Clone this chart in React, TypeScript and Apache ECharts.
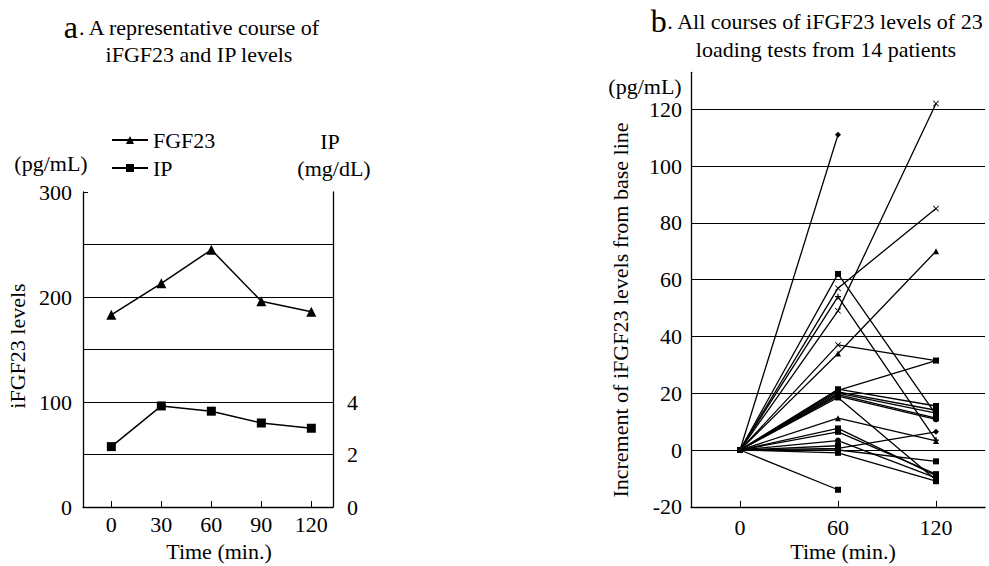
import React, { useEffect, useRef } from "react";
import * as echarts from "echarts";

// ---- Panel a: representative course ----
const timesA = [0, 30, 60, 90, 120];
const fgf23Levels = [183, 213, 245, 196, 186];
const ipLevels = [2.3, 3.85, 3.65, 3.2, 3.0];
const leftTicksA = [0, 100, 200, 300];
const rightTicksA = [0, 2, 4];

// ---- Panel b: increments from base line (23 loading tests) ----
const timesB = [0, 60, 120];
const baseline = [0, 0, 0, 0, 0, 0, 0, 0, 0, 0, 0, 0, 0, 0, 0, 0, 0, 0, 0, 0, 0, 0, 0];
const incAt60 = [111, 49, 57, 34, 37, 21, 62, 54, 21.4, 20.5, 20, 19.5, 19, 18.5, 11.2, 7.6, 6.4, 3.3, 0.6, 0, -1, -14, 1.5];
const incAt120 = [null, 122, 85, 70, 31.5, 31.5, 12.5, 3.5, 15.5, 14, 13, 11.2, 10.8, -10.6, 3.2, -9, -8.5, -9.8, 6.4, -4, -11, null, null];

const FONT = "Liberation Serif";
const symX = "path://M1,0L5,4L9,0L10,1L6,5L10,9L9,10L5,6L1,10L0,9L4,5L0,1Z";
const symPlus = "path://M4,0H6V4H10V6H6V10H4V6H0V4H4Z";
const markerB = [
  "diamond", symX, symX, "triangle", symX, "rect", "rect", symPlus, "rect", "rect", "diamond", "rect",
  "circle", "rect", "triangle", "rect", "rect", "circle", "diamond", "rect", "rect", "rect", "rect",
];

export default function App() {
  const ref = useRef<HTMLDivElement>(null);
  useEffect(() => {
    if (!ref.current) return;
    const chart = echarts.init(ref.current, null, { renderer: "svg" });
    const black = "#000";
    const txt = (text: string, x: number, y: number, extra: any = {}) => ({
      type: "text",
      x,
      y,
      ...extra,
      style: {
        text,
        fill: black,
        fontFamily: FONT,
        fontSize: 22,
        align: "center",
        verticalAlign: "middle",
      },
    });

    const seriesB = incAt60.map((v60, i) => {
      const pts: any[] = [[timesB[0], baseline[i]], [timesB[1], v60]];
      if (incAt120[i] !== null) pts.push([timesB[2], incAt120[i]]);
      return {
        name: "test" + (i + 1),
        type: "line",
        xAxisIndex: 1,
        yAxisIndex: 2,
        data: pts,
        symbol: markerB[i],
        symbolSize: 6,
        showSymbol: true,
        itemStyle: { color: black },
        lineStyle: { color: black, width: 1.3 },
        z: 3,
      };
    });

    const axisLine = { show: true, onZero: false, lineStyle: { color: black, width: 1.3 } };
    const richTitle = {
      b: { fontSize: 32, fontFamily: FONT, color: black },
      n: { fontSize: 22, fontFamily: FONT, color: black },
    };

    const option: any = {
      animation: false,
      textStyle: { fontFamily: FONT, color: black },
      grid: [
        { left: 83, top: 192, width: 250, height: 315 },
        { left: 691, top: 72.3, width: 294, height: 434.5 },
      ],
      legend: {
        data: ["FGF23", "IP"],
        orient: "vertical",
        left: 106,
        top: 124,
        itemWidth: 36,
        itemHeight: 10,
        itemGap: 6,
        textStyle: { fontSize: 22, color: black, fontFamily: FONT },
      },
      xAxis: [
        {
          gridIndex: 0,
          type: "value",
          min: -17,
          max: 133,
          axisLine,
          axisTick: { show: true, inside: true, length: 6, customValues: timesA, lineStyle: { color: black } },
          axisLabel: { customValues: timesA, fontSize: 22, color: black, margin: 6, fontFamily: FONT },
          splitLine: { show: false },
        },
        {
          gridIndex: 1,
          type: "value",
          min: -30,
          max: 150,
          axisLine,
          axisTick: { show: true, inside: true, length: 6, customValues: timesB, lineStyle: { color: black } },
          axisLabel: { customValues: timesB, fontSize: 22, color: black, margin: 10, fontFamily: FONT },
          splitLine: { show: false },
        },
      ],
      yAxis: [
        {
          gridIndex: 0,
          type: "value",
          min: 0,
          max: 300,
          interval: 50,
          axisLine,
          axisTick: { show: true, inside: true, length: 5, lineStyle: { color: black } },
          axisLabel: {
            fontSize: 22,
            color: black,
            margin: 11,
            fontFamily: FONT,
            formatter: (v: number) => (leftTicksA.includes(v) ? String(v) : ""),
          },
          splitLine: { show: true, showMinLine: false, showMaxLine: false, lineStyle: { color: black, width: 1.2 } },
        },
        {
          gridIndex: 0,
          type: "value",
          position: "right",
          min: 0,
          max: 12,
          interval: 2,
          axisLine,
          axisTick: { show: false },
          axisLabel: {
            fontSize: 22,
            color: black,
            margin: 14,
            fontFamily: FONT,
            formatter: (v: number) => (rightTicksA.includes(v) ? String(v) : ""),
          },
          splitLine: { show: false },
        },
        {
          gridIndex: 1,
          type: "value",
          min: -20,
          max: 133,
          interval: 20,
          axisLine,
          axisTick: { show: false },
          axisLabel: {
            fontSize: 22,
            color: black,
            margin: 9,
            fontFamily: FONT,
            showMaxLabel: false,
            formatter: (v: number) => (v % 20 === 0 ? String(v) : ""),
          },
          splitLine: { show: true, showMinLine: false, showMaxLine: false, lineStyle: { color: black, width: 1.2 } },
        },
      ],
      series: [
        {
          name: "FGF23",
          type: "line",
          xAxisIndex: 0,
          yAxisIndex: 0,
          data: timesA.map((t, i) => [t, fgf23Levels[i]]),
          symbol: "triangle",
          symbolSize: 10,
          itemStyle: { color: black },
          lineStyle: { color: black, width: 1.5 },
          z: 3,
        },
        {
          name: "IP",
          type: "line",
          xAxisIndex: 0,
          yAxisIndex: 1,
          data: timesA.map((t, i) => [t, ipLevels[i]]),
          symbol: "rect",
          symbolSize: 9,
          itemStyle: { color: black },
          lineStyle: { color: black, width: 1.5 },
          z: 3,
        },
        ...seriesB,
      ],
      graphic: [
        {
          type: "text",
          x: 192,
          y: 27,
          style: {
            text: "{b|a}{n|. A representative course of}",
            align: "center",
            verticalAlign: "middle",
            fill: black,
            fontFamily: FONT,
            fontSize: 22,
            rich: richTitle,
          },
        },
        txt("iFGF23 and IP levels", 199, 54),
        {
          type: "text",
          x: 817,
          y: 21,
          style: {
            text: "{b|b}{n|. All courses of iFGF23 levels of 23}",
            align: "center",
            verticalAlign: "middle",
            fill: black,
            fontFamily: FONT,
            fontSize: 22,
            rich: richTitle,
          },
        },
        txt("loading tests from 14 patients", 826, 49),
        txt("(pg/mL)", 51, 163),
        txt("IP", 330, 141),
        txt("(mg/dL)", 334, 168),
        txt("iFGF23 levels", 17, 346, { rotation: Math.PI / 2 }),
        txt("Time (min.)", 219, 551),
        txt("(pg/mL)", 645, 86),
        txt("Increment of iFGF23 levels from base line", 620, 310, { rotation: Math.PI / 2 }),
        txt("Time (min.)", 843, 551),
      ],
    };
    chart.setOption(option);
    return () => chart.dispose();
  }, []);
  return (
    <div
      ref={ref}
      style={{ position: "absolute", left: 0, top: 0, width: 989, height: 566, background: "#fff" }}
    />
  );
}
